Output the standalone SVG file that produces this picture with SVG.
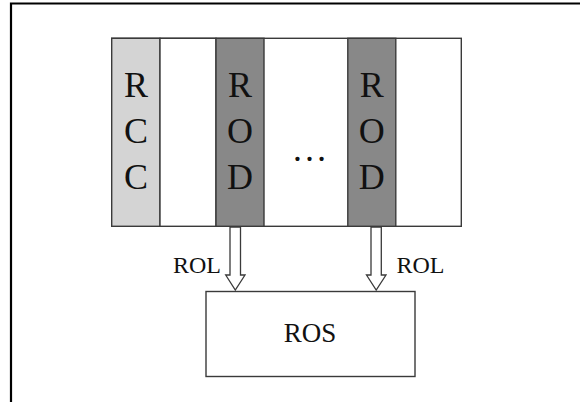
<svg xmlns="http://www.w3.org/2000/svg" width="580" height="402" viewBox="0 0 580 402">
<style>
.frame{stroke:#000;stroke-width:2.2;fill:none}
.box{stroke:#3a3a3a;stroke-width:1.4}
.col{font-family:"Liberation Serif","Times New Roman",serif;font-size:36px;fill:#111;text-anchor:middle}
.lbl{font-family:"Liberation Serif","Times New Roman",serif;font-size:24px;fill:#111}
.arrow{fill:#fff;stroke:#3a3a3a;stroke-width:1.3;stroke-linejoin:miter}
</style>
<rect width="580" height="402" fill="#fff"/>
<path class="frame" d="M11,402 V3.5 H580"/>
<g id="crate">
<rect class="box" x="111.7" y="38.3" width="349.6" height="188" fill="#fff"/>
</g>
<g id="rcc">
<rect class="box" x="111.7" y="38.3" width="48.3" height="188" fill="#d4d4d4"/>
<text class="col" x="136" y="96.5">R</text>
<text class="col" x="136" y="142.5">C</text>
<text class="col" x="136" y="189">C</text>
</g>
<g id="slot1">
<rect class="box" x="160" y="38.3" width="56" height="188" fill="#fff"/>
</g>
<g id="rod1">
<rect class="box" x="216" y="38.3" width="48" height="188" fill="#888"/>
<text class="col" x="240" y="96.5">R</text>
<text class="col" x="240" y="142.5">O</text>
<text class="col" x="240" y="189">D</text>
</g>
<g id="dots">
<text class="col" x="309.5" y="161">…</text>
</g>
<g id="rod2">
<rect class="box" x="347.8" y="38.3" width="48" height="188" fill="#888"/>
<text class="col" x="371.8" y="96.5">R</text>
<text class="col" x="371.8" y="142.5">O</text>
<text class="col" x="371.8" y="189">D</text>
</g>
<g id="ros">
<rect class="box" x="206" y="291.5" width="209" height="85" fill="#fff"/>
<text class="lbl" x="310" y="341.5" text-anchor="middle" style="font-size:27px">ROS</text>
</g>
<g id="connectors">
<polygon class="arrow" points="230,227 230,275 225.7,275 235.3,290 245,275 240.5,275 240.5,227"/>
<polygon class="arrow" points="371,227 371,275 366.5,275 376.2,290 386,275 381.3,275 381.3,227"/>
<text class="lbl" x="221" y="273" text-anchor="end">ROL</text>
<text class="lbl" x="396.5" y="273">ROL</text>
</g>
</svg>
